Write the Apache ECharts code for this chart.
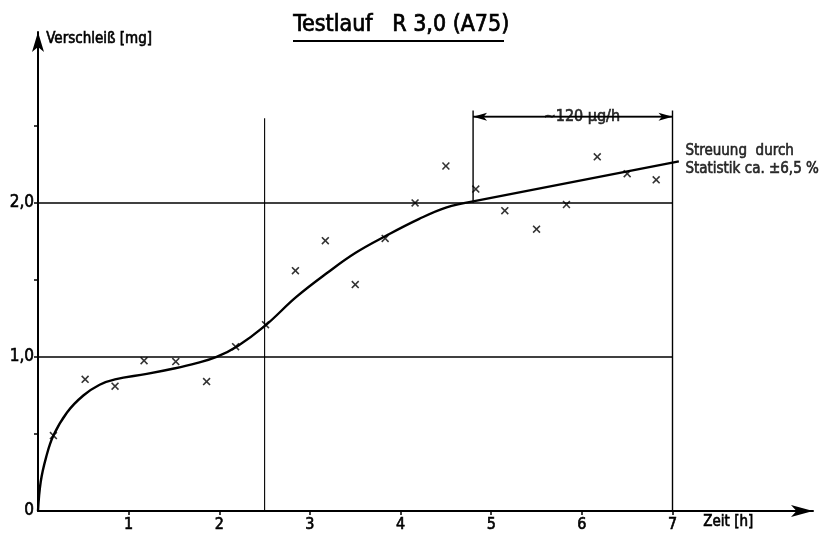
<!DOCTYPE html>
<html>
<head>
<meta charset="utf-8">
<script src="https://cdn.jsdelivr.net/npm/echarts@6/dist/echarts.min.js"></script>
<style>
  html, body { margin: 0; padding: 0; background: #fff; }
  #chart { width: 825px; height: 535px; }
</style>
</head>
<body>
<div id="chart"></div>
<script>
// Measured wear points (every 20 minutes)
const timeH = [0.17, 0.52, 0.85, 1.17, 1.52, 1.86, 2.18, 2.51, 2.84, 3.17, 3.50,
               3.83, 4.16, 4.50, 4.83, 5.15, 5.50, 5.83, 6.17, 6.50, 6.82];
const wearMg = [0.49, 0.855, 0.81, 0.976, 0.97, 0.84, 1.067, 1.21, 1.56, 1.755, 1.47,
                1.77, 2.0, 2.24, 2.09, 1.95, 1.83, 1.99, 2.30, 2.19, 2.15];

// Hand-drawn fitted curve (running-in phase)
const fitX = [0, 0.03, 0.09, 0.17, 0.32, 0.5, 0.68, 0.85, 1.2, 1.5, 1.75, 1.97,
              2.2, 2.5, 2.85, 3.2, 3.5, 3.85, 4.2, 4.5, 4.8];
const fitY = [0, 0.19, 0.35, 0.49, 0.64, 0.75, 0.82, 0.855, 0.89, 0.925, 0.96, 1.0,
              1.07, 1.20, 1.39, 1.55, 1.675, 1.79, 1.895, 1.97, 2.01];

// Steady-state linear wear (~120 µg/h)
const steadyX = [4.8, 7.07];
const steadyY = [2.01, 2.27];

const xTicks = [1, 2, 3, 4, 5, 6, 7];
const yTicks = [0.5, 1, 1.5, 2, 2.5];
const yLabelValues = [0, 1, 2];
const yLabelText = { 0: '0', 1: '1,0', 2: '2,0' };

const FONT = "'DejaVu Sans Condensed', 'Liberation Sans Narrow', 'DejaVu Sans', sans-serif";
const INK = '#000';
// slightly heavier strokes for the lettering without widening it
const heavy = { textBorderColor: INK, textBorderWidth: 0.6 };

const zip = (a, b) => a.map((v, i) => [v, b[i]]);
const xMark = 'path://M0,1.4L1.4,0L5,3.6L8.6,0L10,1.4L6.4,5L10,8.6L8.6,10L5,6.4L1.4,10L0,8.6L3.6,5Z';
const thin = { color: INK, width: 1.4, type: 'solid' };

const chart = echarts.init(document.getElementById('chart'), null, { renderer: 'canvas' });

chart.setOption({
  backgroundColor: '#fff',
  animation: false,
  grid: { left: 38, right: 12, top: 32, bottom: 24, containLabel: false },
  xAxis: {
    type: 'value', min: 0, max: 8.55,
    axisLine: { show: true, onZero: false, symbol: ['none', 'arrow'], symbolSize: [9, 22],
                lineStyle: { color: INK, width: 2 } },
    axisTick: { show: true, customValues: xTicks, length: 4, lineStyle: { color: INK, width: 1.5 } },
    axisLabel: Object.assign({ customValues: xTicks, margin: 6, color: INK, fontFamily: FONT, fontSize: 16 }, heavy),
    splitLine: { show: false }
  },
  yAxis: {
    type: 'value', min: 0, max: 3.11,
    axisLine: { show: true, onZero: false, symbol: ['none', 'arrow'], symbolSize: [9, 20],
                lineStyle: { color: INK, width: 2 } },
    axisTick: { show: true, customValues: yTicks, length: 4, lineStyle: { color: INK, width: 1.5 } },
    axisLabel: Object.assign({ customValues: yLabelValues, margin: 4, color: INK, fontFamily: FONT, fontSize: 17,
                 formatter: v => yLabelText[v] ?? '' }, heavy),
    splitLine: { show: false }
  },
  graphic: [
    { type: 'text', left: 293, top: 13,
      style: Object.assign({ text: 'Testlauf   R 3,0 (A75)', fill: INK, font: "23px " + FONT }, { stroke: INK, lineWidth: 0.7 }) },
    { type: 'line', shape: { x1: 293, y1: 41, x2: 504, y2: 41 }, style: { stroke: INK, lineWidth: 2.2 } },
    { type: 'text', left: 46, top: 31,
      style: { text: 'Verschleiß [mg]', fill: INK, font: "15px " + FONT, stroke: INK, lineWidth: 0.6 } },
    { type: 'text', left: 703, top: 514,
      style: { text: 'Zeit [h]', fill: INK, font: "15px " + FONT, stroke: INK, lineWidth: 0.6 } }
  ],
  series: [
    // reference lines
    { type: 'line', data: [[0, 1], [7, 1]], symbol: 'none', lineStyle: thin, silent: true },
    { type: 'line', data: [[0, 2], [7, 2]], symbol: 'none', lineStyle: thin, silent: true },
    { type: 'line', data: [[2.5, 0], [2.5, 2.55]], symbol: 'none', lineStyle: { color: INK, width: 1.1 }, silent: true },
    { type: 'line', data: [[7, 0], [7, 2.6]], symbol: 'none', lineStyle: thin, silent: true },
    { type: 'line', data: [[4.8, 2.0], [4.8, 2.6]], symbol: 'none', lineStyle: thin, silent: true },
    // dimension arrow for the slope
    { type: 'line', data: [[4.8, 2.56], [7, 2.56]], symbol: 'none', lineStyle: thin, silent: true,
      markLine: {
        silent: true, symbol: ['arrow', 'arrow'], symbolSize: [6, 14],
        lineStyle: { color: INK, width: 1.4, type: 'solid' }, label: { show: false },
        data: [[{ coord: [4.8, 2.56] }, { coord: [7, 2.56] }]]
      } },
    { type: 'scatter', data: [[6.0, 2.56]], symbolSize: 0, silent: true,
      label: Object.assign({ show: true, position: 'inside', formatter: '~120 µg/h', color: INK,
               fontFamily: FONT, fontSize: 16, backgroundColor: '#fff', padding: [0, 4] }, heavy) },
    // fitted curve
    { type: 'line', data: zip(fitX, fitY), smooth: 0.4, symbol: 'none',
      lineStyle: { color: INK, width: 2.4 }, silent: true },
    { type: 'line', data: zip(steadyX, steadyY), symbol: 'none',
      lineStyle: { color: INK, width: 2.4 }, silent: true },
    // measurements
    { type: 'scatter', data: zip(timeH, wearMg), symbol: xMark, symbolSize: 8,
      itemStyle: { color: INK }, silent: true },
    // scatter note
    { type: 'scatter', data: [[7.12, 2.28]], symbolSize: 0, silent: true,
      label: Object.assign({ show: true, position: 'right', distance: 2, align: 'left',
               formatter: 'Streuung  durch\nStatistik ca. ±6,5 %', color: INK,
               fontFamily: FONT, fontSize: 15, lineHeight: 18 }, heavy) }
  ]
});
</script>
</body>
</html>
